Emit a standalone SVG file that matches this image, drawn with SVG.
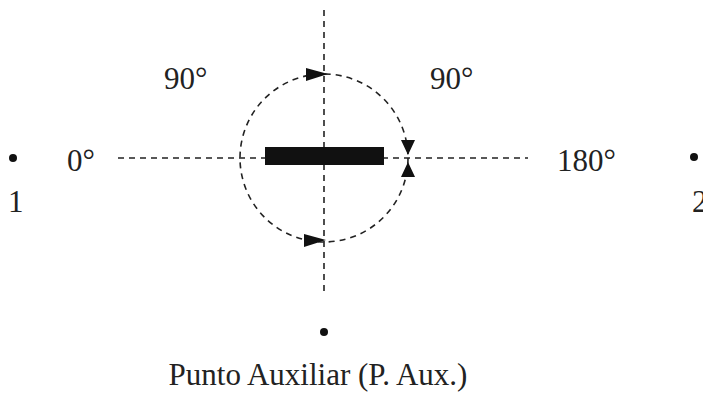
<svg xmlns="http://www.w3.org/2000/svg" width="703" height="393" viewBox="0 0 703 393">
<style>
.t{font-family:"Liberation Serif","Times New Roman",serif;font-size:31px;fill:#222}
.d{stroke:#222;stroke-width:1.6;fill:none;stroke-dasharray:6 5}
.a{fill:#111}
</style>
<rect width="703" height="393" fill="#fff"/>
<g id="connectors">
<line class="d" x1="324" y1="10" x2="324" y2="296"/>
<line class="d" x1="118" y1="158" x2="528" y2="158"/>
<circle class="d" cx="324" cy="158" r="84"/>
<path class="a" d="M306,68 L328,74 L306,81 Z"/>
<path class="a" d="M304,234 L326,240 L304,247 Z"/>
<path class="a" d="M401,140 L415,140 L408,155 Z"/>
<path class="a" d="M401,177 L415,177 L408,162 Z"/>
</g>
<g id="bar"><rect x="265" y="147" width="119" height="18" fill="#111"/></g>
<g id="p1"><circle cx="13" cy="158" r="4" fill="#111"/><text class="t" x="8" y="212">1</text></g>
<g id="p2"><circle cx="694" cy="157" r="4" fill="#111"/><text class="t" x="692" y="212">2</text></g>
<g id="paux"><circle cx="324" cy="332" r="4" fill="#111"/><text class="t" x="318" y="385" text-anchor="middle" font-size="32">Punto Auxiliar (P. Aux.)</text></g>
<g id="labels">
<text class="t" x="164" y="89">90°</text>
<text class="t" x="430" y="89">90°</text>
<text class="t" x="67" y="171">0°</text>
<text class="t" x="557" y="171">180°</text>
</g>
</svg>
